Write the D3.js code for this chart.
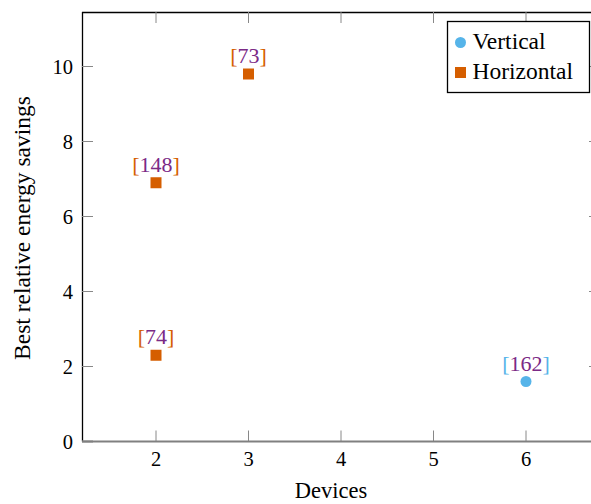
<!DOCTYPE html>
<html>
<head>
<meta charset="utf-8">
<script src="https://cdn.jsdelivr.net/npm/d3@7"></script>
<style>
  body { margin: 0; background: white; }
  text { font-family: "Liberation Serif", serif; }
</style>
</head>
<body>
<svg id="canvas" width="591" height="504"></svg>
<script>
let seriesNames = ["Vertical", "Horizontal"];
let seriesColors = ["#56b4e9", "#d55e00"];

let verticalDevices = [6];
let verticalSavings = [1.6];
let verticalLabels = ["162"];

let horizontalDevices = [2, 2, 3];
let horizontalSavings = [6.9, 2.3, 9.8];
let horizontalLabels = ["148", "74", "73"];

let xTicks = [2, 3, 4, 5, 6];
let yTicks = [0, 2, 4, 6, 8, 10];

let canvas = d3.select("#canvas");

let plotLeft = 82;
let plotRight = 600;
let plotTop = 12;
let plotBottom = 441.5;

let xScale = d3.scaleLinear().domain([1.2, 6.8]).range([plotLeft, plotLeft + (6.8 - 1.2) * 92.5]);
let yScale = d3.scaleLinear().domain([0, 11.44]).range([plotBottom, plotBottom - 11.44 * 37.5]);

let tickGray = "#888";

// frame
canvas.append("line")
  .attr("x1", plotLeft).attr("x2", plotRight).attr("y1", plotTop + 0.5).attr("y2", plotTop + 0.5)
  .attr("stroke", "black").attr("stroke-width", 1.3);
canvas.append("line")
  .attr("x1", plotLeft + 0.5).attr("x2", plotLeft + 0.5).attr("y1", plotTop).attr("y2", plotBottom)
  .attr("stroke", "black").attr("stroke-width", 1.3);
canvas.append("line")
  .attr("x1", plotRight).attr("x2", plotRight).attr("y1", plotTop).attr("y2", plotBottom)
  .attr("stroke", "black").attr("stroke-width", 1.3);

// ticks inside, on all four sides
let xt = canvas.append("g");
xTicks.forEach((t) => {
  xt.append("line")
    .attr("x1", xScale(t)).attr("x2", xScale(t))
    .attr("y1", plotBottom).attr("y2", plotBottom - 11)
    .attr("stroke", tickGray).attr("stroke-width", 1);
  xt.append("line")
    .attr("x1", xScale(t)).attr("x2", xScale(t))
    .attr("y1", plotTop).attr("y2", plotTop + 11)
    .attr("stroke", tickGray).attr("stroke-width", 1);
  xt.append("text")
    .attr("x", xScale(t)).attr("y", 466)
    .attr("text-anchor", "middle")
    .attr("font-size", 20.5)
    .text(t);
});

let yt = canvas.append("g");
yTicks.forEach((t) => {
  yt.append("line")
    .attr("x1", plotLeft).attr("x2", plotLeft + 11)
    .attr("y1", yScale(t)).attr("y2", yScale(t))
    .attr("stroke", tickGray).attr("stroke-width", t === 0 ? 2 : 1);
  yt.append("line")
    .attr("x1", plotRight).attr("x2", plotRight - 11)
    .attr("y1", yScale(t)).attr("y2", yScale(t))
    .attr("stroke", tickGray).attr("stroke-width", 1);
  yt.append("text")
    .attr("x", 73).attr("y", yScale(t) + 7.5)
    .attr("text-anchor", "end")
    .attr("font-size", 20.5)
    .text(t);
});

// bottom axis line (gray)
canvas.append("line")
  .attr("x1", plotLeft).attr("x2", plotRight).attr("y1", plotBottom).attr("y2", plotBottom)
  .attr("stroke", "#808080").attr("stroke-width", 2);

// axis titles
canvas.append("text")
  .attr("x", 331).attr("y", 498)
  .attr("text-anchor", "middle")
  .attr("font-size", 22.5)
  .text("Devices");

canvas.append("text")
  .attr("transform", "translate(30, 228) rotate(-90)")
  .attr("text-anchor", "middle")
  .attr("font-size", 23.5)
  .text("Best relative energy savings");

// point labels like [148]
let pointLabel = (x, y, label, color) => {
  let t = canvas.append("text")
    .attr("x", xScale(x)).attr("y", yScale(y) - 11)
    .attr("text-anchor", "middle")
    .attr("font-size", 22);
  t.append("tspan").attr("fill", color).text("[");
  t.append("tspan").attr("fill", "#7b2a86").text(label);
  t.append("tspan").attr("fill", color).text("]");
};

// horizontal series (squares)
horizontalDevices.forEach((d, i) => {
  canvas.append("rect")
    .attr("x", xScale(d) - 5.5).attr("y", yScale(horizontalSavings[i]) - 5.5)
    .attr("width", 11).attr("height", 11)
    .attr("fill", seriesColors[1]);
  pointLabel(d, horizontalSavings[i], horizontalLabels[i], seriesColors[1]);
});

// vertical series (circles)
verticalDevices.forEach((d, i) => {
  canvas.append("circle")
    .attr("cx", xScale(d)).attr("cy", yScale(verticalSavings[i]))
    .attr("r", 5.5)
    .attr("fill", seriesColors[0]);
  pointLabel(d, verticalSavings[i], verticalLabels[i], seriesColors[0]);
});

// legend
let legend = canvas.append("g").attr("transform", "translate(447.5, 21.5)");
legend.append("rect")
  .attr("width", 142).attr("height", 71)
  .attr("fill", "white").attr("stroke", "black").attr("stroke-width", 1.3);
seriesNames.forEach((name, i) => {
  let cy = 21 + i * 30;
  if (i === 0) {
    legend.append("circle").attr("cx", 13).attr("cy", cy).attr("r", 5.5).attr("fill", seriesColors[i]);
  } else {
    legend.append("rect").attr("x", 7.5).attr("y", cy - 5.5).attr("width", 11).attr("height", 11).attr("fill", seriesColors[i]);
  }
  legend.append("text")
    .attr("x", 25).attr("y", cy + 6)
    .attr("font-size", 23.5)
    .text(name);
});
</script>
</body>
</html>
